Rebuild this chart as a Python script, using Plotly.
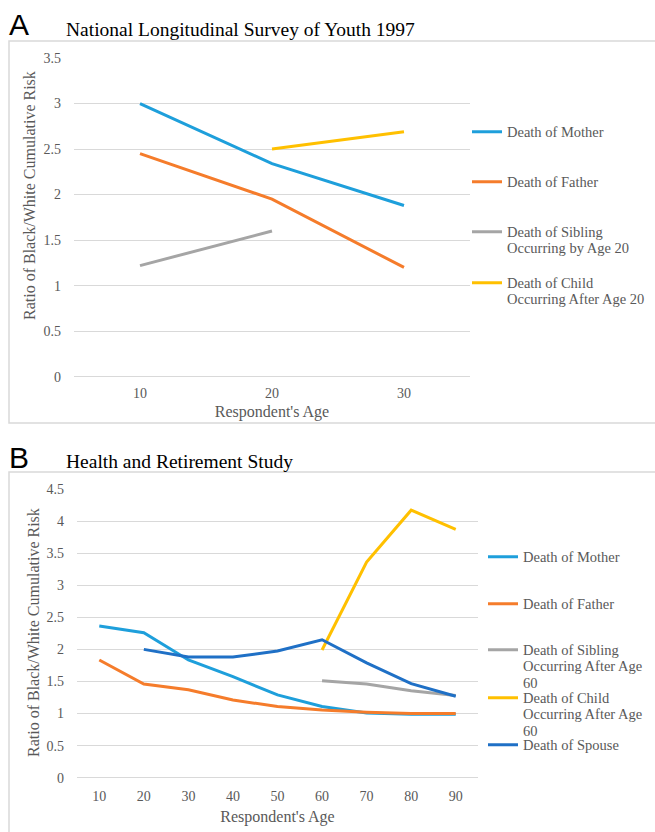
import plotly.graph_objects as go

W, H = 655, 832

# ---------------- Data ----------------
# Panel A: National Longitudinal Survey of Youth 1997
ages_a = [10, 20, 30]
mother_a = [3.00, 2.34, 1.88]
father_a = [2.45, 1.95, 1.20]
sibling_a_ages = [10, 20]
sibling_a = [1.22, 1.60]
child_a_ages = [20, 30]
child_a = [2.50, 2.69]

# Panel B: Health and Retirement Study
ages_b = [10, 20, 30, 40, 50, 60, 70, 80, 90]
mother_b = [2.365, 2.26, 1.835, 1.575, 1.29, 1.11, 1.01, 0.99, 0.99]
father_b = [1.835, 1.46, 1.37, 1.21, 1.11, 1.055, 1.02, 1.00, 1.00]
sibling_b_ages = [60, 70, 80, 90]
sibling_b = [1.51, 1.46, 1.355, 1.28]
child_b_ages = [60, 70, 80, 90]
child_b = [1.99, 3.36, 4.17, 3.87]
spouse_b_ages = [20, 30, 40, 50, 60, 70, 80, 90]
spouse_b = [2.00, 1.88, 1.88, 1.975, 2.15, 1.79, 1.465, 1.27]

names_a = [["Death of Mother"], ["Death of Father"],
           ["Death of Sibling", "Occurring by Age 20"],
           ["Death of Child", "Occurring After Age 20"]]
names_b = [["Death of Mother"], ["Death of Father"],
           ["Death of Sibling", "Occurring After Age", "60"],
           ["Death of Child", "Occurring After Age", "60"],
           ["Death of Spouse"]]
y_title = "Ratio of Black/White Cumulative Risk"
x_title = "Respondent's Age"

# ---------------- Style ----------------
C_MOTHER = "#1E9FDB"
C_FATHER = "#F57C2B"
C_SIBLING = "#A5A5A5"
C_CHILD = "#FFC000"
C_SPOUSE = "#1F70C6"
GRID = "#D9D9D9"
TXT = "#595959"
SERIF = "Liberation Serif, Times New Roman, serif"


def px_x(p):
    return p / W


def px_y(p):
    return 1 - p / H


def legend_label(lines):
    # glyphs a bit larger than the base font, keeping Excel's tight line spacing
    return "<br>".join(f"<span style='font-size:14.5px'>{s}</span>" for s in lines)


fig = go.Figure()

series_a = [
    (ages_a, mother_a, C_MOTHER),
    (ages_a, father_a, C_FATHER),
    (sibling_a_ages, sibling_a, C_SIBLING),
    (child_a_ages, child_a, C_CHILD),
]
legend_a_y = [129, 179, 229, 280]
for i, ((xs, ys, col), nm) in enumerate(zip(series_a, names_a)):
    lg = "legend" if i == 0 else f"legend{i + 1}"
    fig.add_trace(go.Scatter(x=xs, y=ys, name=legend_label(nm), mode="lines",
                             line=dict(color=col, width=3),
                             xaxis="x", yaxis="y", legend=lg))

series_b = [
    (ages_b, mother_b, C_MOTHER),
    (ages_b, father_b, C_FATHER),
    (sibling_b_ages, sibling_b, C_SIBLING),
    (child_b_ages, child_b, C_CHILD),
    (spouse_b_ages, spouse_b, C_SPOUSE),
]
legend_b_y = [554, 601, 647, 695, 742]
for i, ((xs, ys, col), nm) in enumerate(zip(series_b, names_b)):
    lg = f"legend{i + 5}"
    fig.add_trace(go.Scatter(x=xs, y=ys, name=legend_label(nm), mode="lines",
                             line=dict(color=col, width=3),
                             xaxis="x2", yaxis="y2", legend=lg))

legend_common = dict(
    xanchor="left", yanchor="top", bgcolor="rgba(0,0,0,0)",
    borderwidth=0, valign="top",
    font=dict(family=SERIF, size=12.7, color=TXT),
)
layout_legends = {}
for i, yc in enumerate(legend_a_y):
    key = "legend" if i == 0 else f"legend{i + 1}"
    layout_legends[key] = dict(legend_common, x=px_x(467), y=px_y(yc - 12))
for i, yc in enumerate(legend_b_y):
    key = f"legend{i + 5}"
    layout_legends[key] = dict(legend_common, x=px_x(483), y=px_y(yc - 12))

tick_font = dict(family=SERIF, size=14, color=TXT)
title_font = dict(family=SERIF, size=16, color=TXT)

xcommon = dict(showgrid=False, zeroline=False, showline=False,
               tickfont=tick_font, automargin=True)
ycommon = dict(dtick=0.5, gridcolor=GRID, gridwidth=1, zeroline=True,
               zerolinecolor=GRID, zerolinewidth=1, showline=False,
               tickfont=tick_font, ticklabelstandoff=12, automargin=False)

fig.update_layout(
    width=W, height=H,
    margin=dict(l=0, r=0, t=0, b=0),
    paper_bgcolor="white", plot_bgcolor="white",
    showlegend=True,
    xaxis=dict(xcommon, domain=[px_x(74), px_x(470)], range=[5, 35],
               tickvals=ages_a, anchor="y", ticklabelstandoff=6,
               title=dict(text=x_title, font=title_font, standoff=6)),
    yaxis=dict(ycommon, domain=[px_y(376.7), px_y(58)], range=[0, 3.5],
               anchor="x"),
    xaxis2=dict(xcommon, domain=[px_x(77), px_x(478)], range=[5, 95],
                tickvals=ages_b, anchor="y2", ticklabelstandoff=8,
                title=dict(text=x_title, font=title_font, standoff=8)),
    yaxis2=dict(ycommon, domain=[px_y(777.7), px_y(489)], range=[0, 4.5],
                anchor="x2"),
    **layout_legends,
)

# Y-axis titles (placed as in the reference)
for xc, yc in ((29, 196), (33, 633)):
    fig.add_annotation(text=y_title, xref="paper", yref="paper",
                       x=px_x(xc), y=px_y(yc), textangle=-90,
                       xanchor="center", yanchor="middle", showarrow=False,
                       font=title_font)

# Chart area borders
fig.add_shape(type="rect", xref="paper", yref="paper",
              x0=px_x(9), x1=px_x(660), y0=px_y(423), y1=px_y(41),
              line=dict(color=GRID, width=1.5), layer="below")
fig.add_shape(type="rect", xref="paper", yref="paper",
              x0=px_x(9), x1=px_x(660), y0=px_y(840), y1=px_y(472),
              line=dict(color=GRID, width=1.5), layer="below")

# Panel letters and titles
for letter, yc in (("A", 24), ("B", 457)):
    fig.add_annotation(text=letter, xref="paper", yref="paper",
                       x=px_x(7), y=px_y(yc), xanchor="left", yanchor="middle",
                       showarrow=False,
                       font=dict(family="Liberation Sans, Arial, sans-serif",
                                 size=30, color="black"))
for title, yc in (("National Longitudinal Survey of Youth 1997", 29),
                  ("Health and Retirement Study", 461)):
    fig.add_annotation(text=title, xref="paper", yref="paper",
                       x=px_x(64), y=px_y(yc), xanchor="left", yanchor="middle",
                       showarrow=False,
                       font=dict(family=SERIF, size=19.5, color="black"))

fig.write_html("out.html")
